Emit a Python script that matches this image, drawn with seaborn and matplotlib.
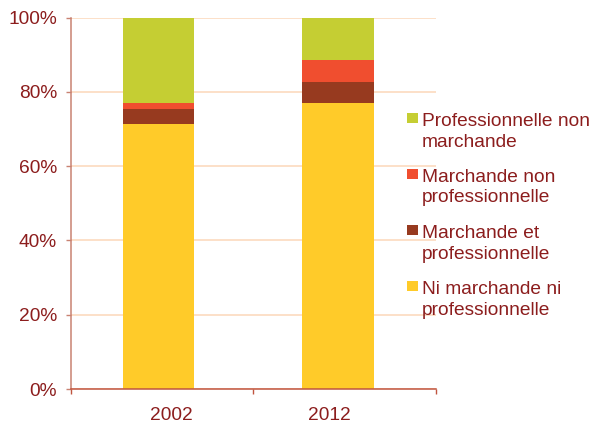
import matplotlib
matplotlib.use("Agg")
import matplotlib.pyplot as plt
from matplotlib.patches import Rectangle
import seaborn as sns
import numpy as np

# ---- data ----
years = ["2002", "2012"]
ni_marchande_ni_pro = [71.5, 77.1]
marchande_et_pro = [4.0, 5.6]
marchande_non_pro = [1.4, 6.0]
pro_non_marchande = [23.1, 11.3]

series_labels = [
    ("Professionnelle non", "marchande"),
    ("Marchande non", "professionnelle"),
    ("Marchande et", "professionnelle"),
    ("Ni marchande ni", "professionnelle"),
]
colors = ["#C5CE33", "#F04E2F", "#973A1F", "#FFCB29"]
yticks = [0, 20, 40, 60, 80, 100]
ytick_labels = ["0%", "20%", "40%", "60%", "80%", "100%"]

TXT = "#8C1D1D"
FONT = "Liberation Sans"
FS = 13.8
W, H = 592, 423

plt.rcParams["font.family"] = [FONT, "DejaVu Sans"]

fig = plt.figure(figsize=(W / 100, H / 100), dpi=100)
left, right, bottom, top = 70.7, 436.0, 389.0, 17.7
ax = fig.add_axes([left / W, 1 - bottom / H, (right - left) / W, (bottom - top) / H])

# cumulative stacks, drawn from top layer down
s1 = np.array(ni_marchande_ni_pro)
s2 = s1 + np.array(marchande_et_pro)
s3 = s2 + np.array(marchande_non_pro)
s4 = s3 + np.array(pro_non_marchande)
for vals, c in zip([s4, s3, s2, s1], colors):
    sns.barplot(x=years, y=vals, color=c, width=0.40, saturation=1,
                errorbar=None, ax=ax, zorder=3, linewidth=0)

ax.set_xlim(-0.49, 1.547)
ax.set_ylim(0, 100)

# gridlines
ax.set_yticks(yticks)
ax.set_yticklabels(ytick_labels)
ax.yaxis.grid(True, color="#FCDDC4", linewidth=1.3, zorder=0)
ax.set_axisbelow(True)

for s in ["top", "right"]:
    ax.spines[s].set_visible(False)
ax.spines["left"].set_color("#C98272")
ax.spines["left"].set_linewidth(1.1)
ax.spines["bottom"].set_color("#C0553F")
ax.spines["bottom"].set_linewidth(1.1)
ax.spines["left"].set_zorder(4)
ax.spines["bottom"].set_zorder(4)

ax.tick_params(axis="y", direction="out", length=3.4, width=1.0, color="#C98272",
               pad=6.5, labelsize=FS, labelcolor=TXT)
for t in ax.get_yticklabels():
    t.set_fontfamily(FONT)

# x ticks: boundaries as minor ticks, labels as major ticks without marks
xl = ax.get_xlim()
ax.set_xticks([xl[0], (xl[0] + xl[1]) / 2, xl[1]], minor=True)
ax.set_xticks([0.072, 0.955])
ax.set_xticklabels(years)
ax.tick_params(axis="x", which="minor", direction="out", length=3.6, width=1.0, color="#C0553F")
ax.tick_params(axis="x", which="major", length=0, pad=13, labelsize=FS, labelcolor=TXT)
for t in ax.get_xticklabels():
    t.set_fontfamily(FONT)
ax.set_xlabel("")
ax.set_ylabel("")

# legend (manual, first line aligned with marker)
baselines = [126.3, 182.0, 238.3, 294.3]
for (l1, l2), c, b in zip(series_labels, colors, baselines):
    fig.add_artist(Rectangle((406.7 / W, 1 - (b - 3) / H), 11 / W, 10 / H,
                             transform=fig.transFigure, facecolor=c, edgecolor="none"))
    fig.text(422 / W, 1 - b / H, l1, fontsize=FS, color=TXT, fontfamily=FONT,
             ha="left", va="baseline")
    fig.text(422 / W, 1 - (b + 20.4) / H, l2, fontsize=FS, color=TXT, fontfamily=FONT,
             ha="left", va="baseline")

fig.savefig("out.png", dpi=100)
